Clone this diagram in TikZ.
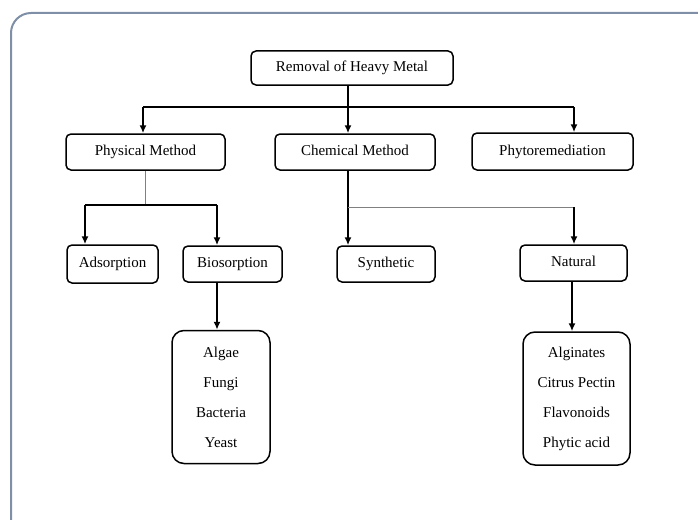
\documentclass[tikz,border=0pt]{standalone}
\usepackage{fontspec}
\setmainfont{Liberation Serif}
\usetikzlibrary{arrows.meta}
\definecolor{framegray}{HTML}{7F8FA6}

\begin{document}
\begin{tikzpicture}[x=1pt,y=-1pt,
  box/.style={draw,line width=1.5pt,rounded corners=5pt,inner sep=0pt,text height=10pt,text depth=3pt,font=\fontsize{15}{16}\selectfont},
  listbox/.style={draw,line width=1.5pt,rounded corners=12pt,inner sep=0pt,align=center,font=\fontsize{15}{30}\selectfont},
  link/.style={line width=1.6pt,-{Latex[length=8pt,width=7pt]}},
  bar/.style={line width=1.6pt},
  thinline/.style={line width=0.8pt,gray}]
\useasboundingbox (0,0) rectangle (698,519);
\draw[line width=2pt,framegray,rounded corners=20pt] (702,13) -- (11,13) -- (11,523);

% boxes
\node[box,minimum width=202,minimum height=34] (root) at (352,68) {Removal of Heavy Metal};
\node[box,minimum width=159,minimum height=36] (phys) at (145.5,152) {Physical Method};
\node[box,minimum width=160,minimum height=36] (chem) at (355,152) {Chemical Method};
\node[box,minimum width=161,minimum height=37] (phyto) at (552.5,151.5) {Phytoremediation};
\node[box,minimum width=91,minimum height=38] (adso) at (112.5,264) {Adsorption};
\node[box,minimum width=99,minimum height=36] (bios) at (232.5,264) {Biosorption};
\node[box,minimum width=98,minimum height=36] (synt) at (386,264) {Synthetic};
\node[box,minimum width=107,minimum height=36] (nat) at (573.5,263) {Natural};
\node[listbox,minimum width=98,minimum height=133] (micro) at (221,397) {Algae\\Fungi\\Bacteria\\Yeast};
\node[listbox,minimum width=107,minimum height=133] (agents) at (576.5,398.5) {Alginates\\Citrus Pectin\\Flavonoids\\Phytic acid};

% top level
\coordinate (busL) at (143,107);
\coordinate (busM) at (348,107);
\coordinate (busR) at (574,107);
\draw[bar] (root.south -| busM) -- (busM);
\draw[bar] (busL) -- (busR);
\draw[link] (busL) -- (busL |- phys.north);
\draw[link] (busM) -- (busM |- chem.north);
\draw[link] (busR) -- (busR |- phyto.north);

% physical branch
\coordinate (pL) at (85,205);
\coordinate (pR) at (217,205);
\draw[thinline] (phys.south) -- (phys.south |- pL);
\draw[bar] (pL) -- (pR);
\draw[link] (pL) -- (pL |- adso.north);
\draw[link] (pR) -- (pR |- bios.north);
\draw[link] (bios.south -| pR) -- (micro.north -| pR);

% chemical branch
\coordinate (cL) at (348,207);
\coordinate (cR) at (574,207);
\draw[link] (chem.south -| cL) -- (synt.north -| cL);
\draw[thinline] (cL) -- (cR);
\draw[link] (cR) -- (cR |- nat.north);
\coordinate (nD) at (572,0);
\draw[link] (nat.south -| nD) -- (agents.north -| nD);
\end{tikzpicture}
\end{document}
